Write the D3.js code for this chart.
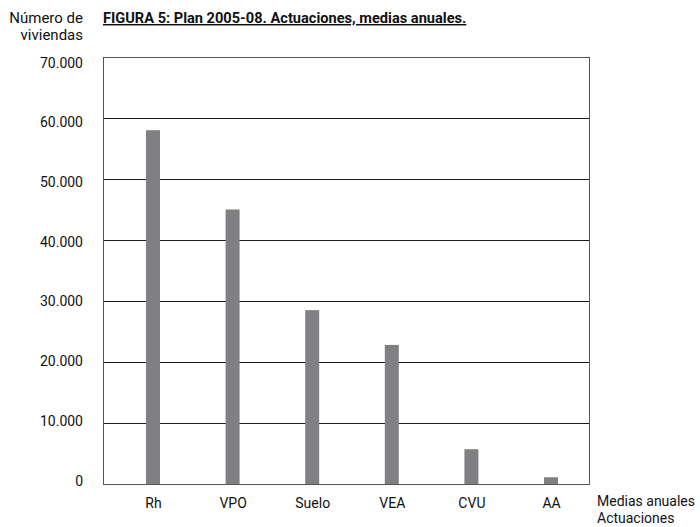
<!DOCTYPE html>
<html>
<head>
<meta charset="utf-8">
<script src="https://cdn.jsdelivr.net/npm/d3@7"></script>
<style>
  html, body { margin: 0; padding: 0; background: #fff; }
  svg { display: block; font-family: "Roboto", "Liberation Sans", sans-serif; }
</style>
</head>
<body>
<svg id="chart" width="700" height="527"></svg>
<script>
// Plan 2005-08: annual average actions by programme
const categories = ["Rh", "VPO", "Suelo", "VEA", "CVU", "AA"];
const values = [58000, 45000, 28500, 22800, 5700, 1100];
const yTicks = [0, 10000, 20000, 30000, 40000, 50000, 60000, 70000];
const tickLabels = ["0", "10.000", "20.000", "30.000", "40.000", "50.000", "60.000", "70.000"];

const svg = d3.select("#chart");
const plot = { left: 103, right: 589, top: 57, bottom: 484 };

const y = d3.scaleLinear().domain([0, 70000]).range([plot.bottom, plot.top]);
// tick labels sit on a slightly tighter scale than the gridlines
const yLabel = y.copy().range([plot.bottom - 4, plot.top + 5]);
const x = d3.scalePoint().domain(categories).range([153, 551]);
const barW = 14;

// horizontal gridlines
svg.append("g")
  .selectAll("line")
  .data(yTicks)
  .join("line")
  .attr("x1", plot.left)
  .attr("x2", plot.right)
  .attr("y1", d => y(d) + 0.5)
  .attr("y2", d => y(d) + 0.5)
  .attr("stroke", d => (d === 0 || d === 70000) ? "#555" : "#1a1a1a")
  .attr("stroke-width", 1);

// side borders
svg.append("line")
  .attr("x1", plot.left + 0.5).attr("x2", plot.left + 0.5)
  .attr("y1", plot.top).attr("y2", plot.bottom + 1)
  .attr("stroke", "#555");
svg.append("line")
  .attr("x1", plot.right + 0.5).attr("x2", plot.right + 0.5)
  .attr("y1", plot.top).attr("y2", plot.bottom + 1)
  .attr("stroke", "#555");

// bars
svg.append("g")
  .selectAll("rect")
  .data(categories.map((c, i) => ({ c, v: values[i] })))
  .join("rect")
  .attr("x", d => x(d.c) - barW / 2)
  .attr("y", d => y(d.v))
  .attr("width", barW)
  .attr("height", d => y(0) - y(d.v))
  .attr("fill", "#808083");

// y-axis tick labels
const yAxis = d3.axisLeft(yLabel)
  .tickValues(yTicks)
  .tickFormat((d, i) => tickLabels[i])
  .tickSize(0)
  .tickPadding(0);
const gy = svg.append("g")
  .attr("transform", `translate(83,0)`)
  .call(yAxis);
gy.select(".domain").remove();
gy.selectAll("text")
  .attr("font-size", 14)
  .attr("font-family", "Roboto, sans-serif")
  .attr("fill", "#111")
  .attr("dy", "0.36em");

// x-axis category labels
const xAxis = d3.axisBottom(x).tickSize(0).tickPadding(0);
const gx = svg.append("g")
  .attr("transform", `translate(0,498)`)
  .call(xAxis);
gx.select(".domain").remove();
gx.selectAll("text")
  .attr("font-size", 14)
  .attr("font-family", "Roboto, sans-serif")
  .attr("fill", "#111");

// axis titles
svg.append("text")
  .attr("x", 83).attr("y", 23)
  .attr("text-anchor", "end")
  .attr("font-size", 15).attr("fill", "#111")
  .text("Número de");
svg.append("text")
  .attr("x", 83).attr("y", 40)
  .attr("text-anchor", "end")
  .attr("font-size", 15).attr("fill", "#111")
  .text("viviendas");

svg.append("text")
  .attr("x", 597).attr("y", 506)
  .attr("font-size", 14).attr("fill", "#111")
  .text("Medias anuales");
svg.append("text")
  .attr("x", 597).attr("y", 523)
  .attr("font-size", 14).attr("fill", "#111")
  .text("Actuaciones");

// figure title
svg.append("text")
  .attr("x", 103).attr("y", 23)
  .attr("font-size", 14.6)
  .attr("font-weight", "bold")
  .attr("fill", "#111")
  .attr("text-decoration", "underline")
  .text("FIGURA 5: Plan 2005-08. Actuaciones, medias anuales.");
</script>
</body>
</html>
